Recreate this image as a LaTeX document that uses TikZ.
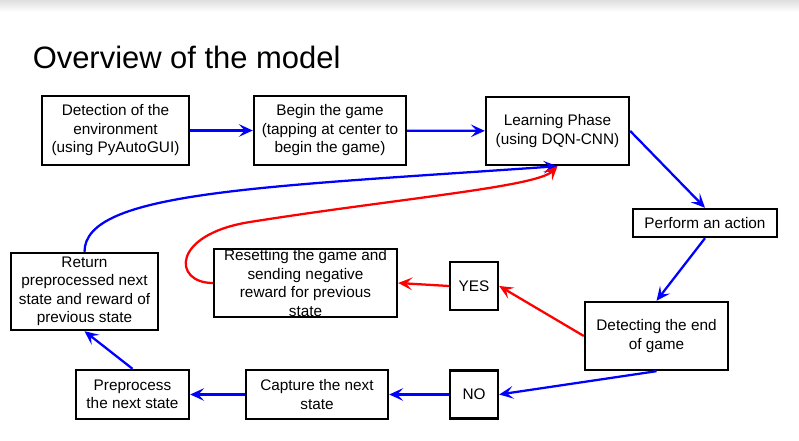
\documentclass[tikz,border=0pt]{standalone}
\usepackage{fontspec}
\setmainfont{Liberation Sans}
\usetikzlibrary{arrows.meta}
\definecolor{blue}{RGB}{0,0,255}
\definecolor{red}{RGB}{255,0,0}
\tikzstyle{box}=[draw=black, line width=1.8pt, rectangle, align=center, inner sep=0pt, font=\fontsize{11.5pt}{13.9pt}\selectfont]
\tikzstyle{blue-arrow}=[draw=blue, line width=1.7pt, -{Stealth[length=10.5pt, width=9.5pt, inset=4.5pt]}]
\tikzstyle{red-arrow}=[draw=red, line width=1.7pt, -{Stealth[length=10.5pt, width=9.5pt, inset=4.5pt]}]

\begin{document}
\begin{tikzpicture}[x=0.75pt, y=0.75pt]
\useasboundingbox (0,0) rectangle (799,441);
\shade [top color=black!13, bottom color=white] (0,429) rectangle (799,441);

\node [anchor=base west, inner sep=0pt, font=\fontsize{23.2pt}{28pt}\selectfont] (title) at (32.5,372) {Overview of the model};

% top row
\node[box, minimum width=110.25pt, minimum height=51.75pt] (detect) at (115.5,310.5) {Detection of the\\environment\\(using PyAutoGUI)};
\node[box, minimum width=114pt, minimum height=51.75pt] (begin) at (330,310.5) {Begin the game\\(tapping at center to\\begin the game)};
\node[box, minimum width=107.25pt, minimum height=51pt] (learn) at (557.5,310) {Learning Phase\\(using DQN-CNN)};

% right side
\node[box, minimum width=108pt, minimum height=21pt] (action) at (705,218) {Perform an action};
\node[box, minimum width=107.25pt, minimum height=51pt] (gameend) at (656.5,105) {Detecting the end\\of game};
\node[box, minimum width=36pt, minimum height=36pt] (yes) at (474,155) {YES};
\node[box, minimum width=36pt, minimum height=36pt] (no) at (474,46.5) {NO};

% left side
\node[box, minimum width=137.25pt, minimum height=51pt, inner ysep=-1.5pt] (reset) at (305.5,158) {Resetting the game and\\sending negative\\reward for previous\\state};
\node[box, minimum width=110.25pt, minimum height=57.75pt] (return) at (84.5,149.5) {Return\\preprocessed next\\state and reward of\\previous state};
\node[box, minimum width=84.75pt, minimum height=36.75pt] (preproc) at (132.5,46.5) {Preprocess\\the next state};
\node[box, minimum width=106.5pt, minimum height=36.75pt] (capture) at (317,46.5) {Capture the next\\state};

\coordinate (rbend) at (250,219);

\draw [blue-arrow] (detect) -- (begin);
\draw [blue-arrow] (begin) -- (learn);
\draw [blue-arrow] (learn.east) -- (action.north);
\draw [blue-arrow] (action.south) -- (gameend.north);
\draw [red-arrow] (gameend.west) -- (yes.east);
\draw [red-arrow] (yes.west) -- (reset.east);
\draw [blue-arrow] (gameend.south) -- (no.east);
\draw [blue-arrow] (no.west) -- (capture.east);
\draw [blue-arrow] (capture.west) -- (preproc.east);
\draw [blue-arrow] (preproc.north) -- (return.south);
\draw [blue-arrow] (return.north) to[out=90, in=184, out distance=45pt, in distance=225pt] (learn.south);
\draw [red-arrow] (reset.west) to[out=180, in=189, out distance=30pt, in distance=60pt] (rbend) to[out=9, in=225, out distance=112pt, in distance=22pt] (learn.south);
\end{tikzpicture}
\end{document}
